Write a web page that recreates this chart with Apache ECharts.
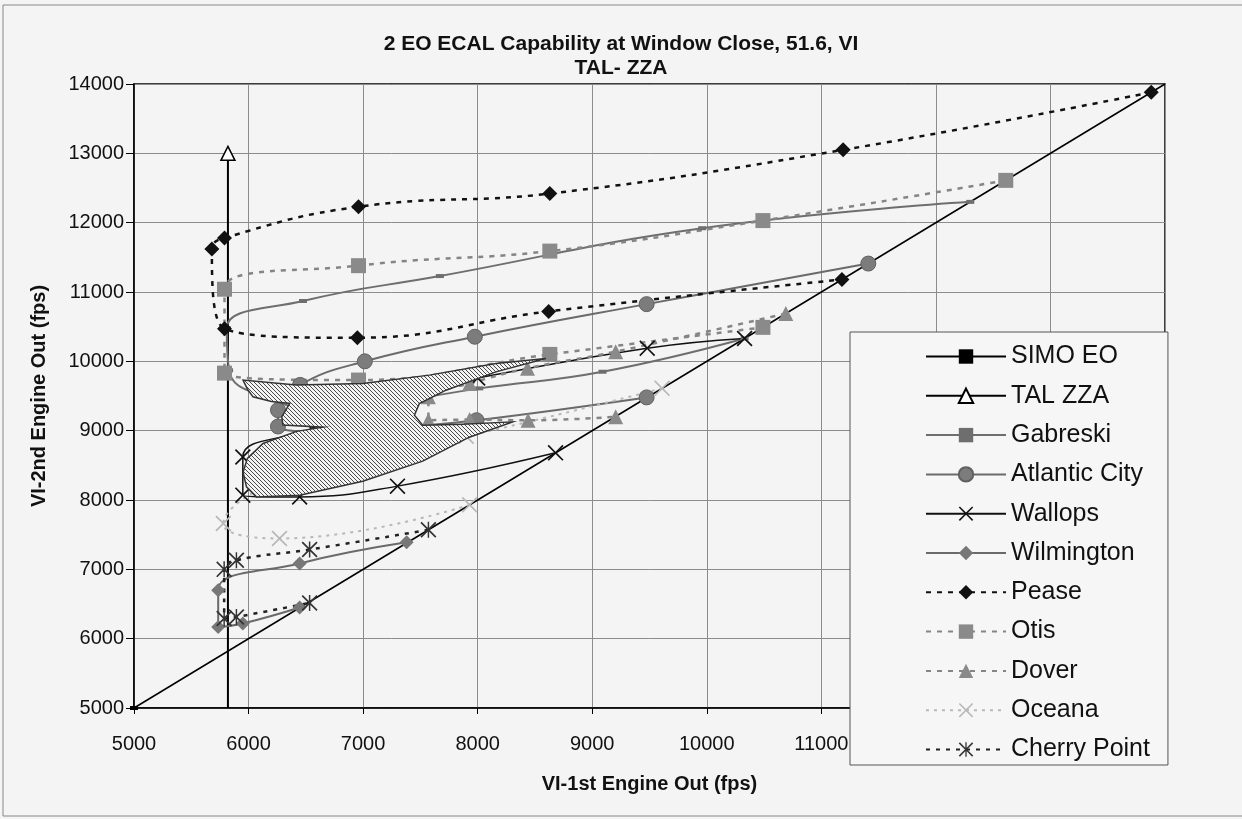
<!DOCTYPE html>
<html>
<head>
<meta charset="utf-8">
<script src="https://cdn.jsdelivr.net/npm/echarts@6/dist/echarts.min.js"></script>
<style>
html,body{margin:0;padding:0;background:#f4f4f4;}
#c{width:1242px;height:819px;}
</style>
</head>
<body>
<div id="c"></div>
<script>
// ---- data (x = VI-1st Engine Out, y = VI-2nd Engine Out, fps) ----
const titleLines = ['2 EO ECAL Capability at Window Close, 51.6, VI', 'TAL- ZZA'];
const xName = 'VI-1st Engine Out (fps)';
const yName = 'VI-2nd Engine Out (fps)';
const axisMin = 5000, axisMax = 14000, axisStep = 1000;
const lastShownXLabel = 11000; // labels beyond are hidden under the legend box

const simoEO      = [[5000,5000],[14000,14000]];
const talZZA      = [[5820,5000],[5820,13000]];
const gabreski    = [[12300,12300],[9960,11920],[7670,11230],[6475,10870],[5810,10480],[5830,9870],[6080,9520],[6700,9300],[7300,9420],[8014,9610],[9090,9850],[10330,10330]];
const atlanticCity= [[11410,11410],[9475,10825],[7975,10355],[7015,10000],[6450,9660],[6257,9296],[6257,9060],[6800,8980],[7350,9050],[7990,9150],[9475,9480]];
const wallops     = [[10330,10330],[9480,10190],[8000,9760],[7200,9500],[6550,9030],[5950,8620],[5950,8070],[6446,8045],[7300,8200],[8680,8680]];
const wilmington  = [[7380,7390],[6446,7085],[5735,6700],[5735,6170],[5950,6220],[6446,6450]];
const pease       = [[13880,13880],[11190,13050],[8630,12420],[6960,12230],[5790,11780],[5680,11620],[5790,10470],[6950,10340],[8620,10720],[11180,11180]];
const otis        = [[12610,12610],[10490,12030],[8630,11590],[6960,11380],[5790,11040],[5790,9830],[6960,9730],[8630,10100],[10490,10490]];
const dover       = [[10690,10690],[9205,10140],[8435,9900],[7930,9680],[7570,9490],[7570,9150],[7930,9160],[8440,9150],[9205,9200]];
const oceana      = [[9610,9610],[7900,8920],[7000,8650],[6200,8250],[5780,7660],[6270,7445],[7930,7930]];
const cherryPoint = [[7570,7570],[6533,7285],[5894,7130],[5787,7000],[5787,6290],[5894,6313],[6533,6515]];

// outline of the hatched region
const shadeRegion = [[5952,9729],[5990,9600],[6039,9488],[6200,9420],[6359,9392],[6290,9200],[6300,9080],
  [6650,9050],[6420,8990],[6126,8815],[5990,8600],[5952,8400],[5982,8189],[6069,8045],[6446,8069],
  [6997,8271],[7520,8560],[7927,8906],[8304,9127],[7868,9094],[7520,9079],[7448,9224],[7491,9392],
  [7724,9584],[8159,9848],[8595,10042],[8159,9970],[7578,9801],[6997,9681],[6417,9657]];

const legendNames = ['SIMO EO','TAL ZZA','Gabreski','Atlantic City','Wallops','Wilmington','Pease','Otis','Dover','Oceana','Cherry Point'];

// ---- symbols ----
const xPath = 'path://M0,1.5 L1.5,0 L10,8.5 L18.5,0 L20,1.5 L11.5,10 L20,18.5 L18.5,20 L10,11.5 L1.5,20 L0,18.5 L8.5,10 Z';
const starPath = 'path://M0,1.5 L1.5,0 L10,8.5 L18.5,0 L20,1.5 L11.5,10 L20,18.5 L18.5,20 L10,11.5 L1.5,20 L0,18.5 L8.5,10 Z M9.1,0 L10.9,0 L10.9,20 L9.1,20 Z';

function makeHatch(){
  const n = 4;
  const c = document.createElement('canvas');
  c.width = n; c.height = n;
  const g = c.getContext('2d');
  g.fillStyle = '#f4f4f4'; g.fillRect(0,0,n,n);
  g.strokeStyle = '#4a4a4a'; g.lineWidth = 1;
  g.beginPath();
  g.moveTo(-1,-1); g.lineTo(n+1,n+1);
  g.moveTo(-1,n-1); g.lineTo(1,n+1);
  g.moveTo(n-1,-1); g.lineTo(n+1,1);
  g.stroke();
  return c;
}
const hatch = makeHatch();

function lineSeries(name, data, o){
  return {
    name: name, type: 'line', data: data,
    smooth: o.smooth === undefined ? 0.45 : o.smooth,
    symbol: o.symbol, symbolSize: o.size, showSymbol: true,
    lineStyle: {color: o.color, width: o.width, type: o.dash || 'solid'},
    itemStyle: {color: o.fill || o.color, borderColor: o.border || o.fill || o.color, borderWidth: o.bw || 0},
    z: o.z || 2, silent: true, animation: false
  };
}
// the end point of a line that sits on the axis / corner carries no marker in the picture
function hideEnds(data, idx){
  return data.map((p, i) => idx.indexOf(i) >= 0 ? {value: p, symbol: 'none'} : p);
}

const chart = echarts.init(document.getElementById('c'), null, {renderer: 'canvas'});
const FONT = '"Liberation Sans", Arial, sans-serif';

chart.setOption({
  backgroundColor: '#f4f4f4',
  animation: false,
  title: {
    text: titleLines.join('\n'),
    left: 'center', top: 27,
    textStyle: {fontFamily: FONT, fontWeight: 'bold', fontSize: 21, lineHeight: 24, color: '#111'}
  },
  grid: {left: 134, right: 77, top: 84, bottom: 111, show: true, borderColor: '#000', borderWidth: 1.5, backgroundColor: 'transparent'},
  xAxis: {
    type: 'value', min: axisMin, max: axisMax, interval: axisStep,
    name: xName, nameLocation: 'middle', nameGap: 66,
    nameTextStyle: {fontFamily: FONT, fontWeight: 'bold', fontSize: 20, color: '#111'},
    axisLine: {lineStyle: {color: '#000', width: 1.5}},
    axisTick: {show: true, length: 6, lineStyle: {color: '#000'}},
    axisLabel: {formatter: v => (v <= lastShownXLabel ? String(v) : ''), fontFamily: FONT, fontSize: 20, color: '#111', margin: 26},
    splitLine: {show: true, lineStyle: {color: '#8c8c8c', width: 1}}
  },
  yAxis: {
    type: 'value', min: axisMin, max: axisMax, interval: axisStep,
    name: yName, nameLocation: 'middle', nameGap: 85,
    nameTextStyle: {fontFamily: FONT, fontWeight: 'bold', fontSize: 20, color: '#111'},
    axisLine: {lineStyle: {color: '#000', width: 1.5}},
    axisTick: {show: true, length: 8, lineStyle: {color: '#000'}},
    axisLabel: {formatter: v => String(v), fontFamily: FONT, fontSize: 20, color: '#111', margin: 10},
    splitLine: {show: true, lineStyle: {color: '#8c8c8c', width: 1}}
  },
  legend: {
    data: legendNames, orient: 'vertical',
    left: 850, top: 332,
    padding: [12, 18, 3, 75],
    itemWidth: 80, itemHeight: 18, itemGap: 14.3,
    backgroundColor: '#f6f6f6', borderColor: '#555', borderWidth: 1,
    textStyle: {fontFamily: FONT, fontSize: 25, lineHeight: 25, color: '#111'},
    selectedMode: false, z: 10
  },
  graphic: [{type: 'rect', shape: {x: 3, y: 5, width: 1250, height: 811}, style: {fill: 'none', stroke: '#888', lineWidth: 1}, silent: true, z: -1}],
  series: [
    lineSeries('SIMO EO', hideEnds(simoEO, [1]), {symbol: 'rect', size: [8,4], color: '#000', width: 1.5, smooth: false}),
    lineSeries('TAL ZZA', hideEnds(talZZA, [0]), {symbol: 'triangle', size: 14, color: '#000', fill: '#fff', border: '#000', bw: 1.5, width: 2, smooth: false}),
    lineSeries('Gabreski', gabreski, {symbol: 'rect', size: [8,4], color: '#6e6e6e', width: 2}),
    lineSeries('Atlantic City', atlanticCity, {symbol: 'circle', size: 15, color: '#6a6a6a', fill: '#7c7c7c', border: '#606060', bw: 1, width: 2}),
    lineSeries('Wallops', wallops, {symbol: xPath, size: 16, color: '#111', width: 1.5}),
    lineSeries('Wilmington', wilmington, {symbol: 'diamond', size: 14, color: '#6a6a6a', fill: '#777', width: 2}),
    lineSeries('Pease', pease, {symbol: 'diamond', size: 15, color: '#111', width: 2.5, dash: [5,6]}),
    lineSeries('Otis', otis, {symbol: 'rect', size: 15, color: '#858585', fill: '#8a8a8a', width: 2.5, dash: [5,6]}),
    lineSeries('Dover', dover, {symbol: 'triangle', size: 15, color: '#858585', fill: '#8a8a8a', width: 2.5, dash: [5,6]}),
    lineSeries('Oceana', oceana, {symbol: xPath, size: 16, color: '#b8b8b8', width: 2, dash: [3,5]}),
    lineSeries('Cherry Point', cherryPoint, {symbol: starPath, size: 16, color: '#222', fill: '#333', width: 2.5, dash: [4,6]}),
    {
      type: 'custom', name: 'shade', coordinateSystem: 'cartesian2d', silent: true, z: 5,
      data: [shadeRegion[0]],
      renderItem: function(params, api){
        const pts = shadeRegion.map(p => api.coord(p));
        return {type: 'polygon', shape: {points: pts},
          style: {fill: {image: hatch, repeat: 'repeat'}, stroke: '#333', lineWidth: 1.5}};
      }
    }
  ]
});
</script>
</body>
</html>
